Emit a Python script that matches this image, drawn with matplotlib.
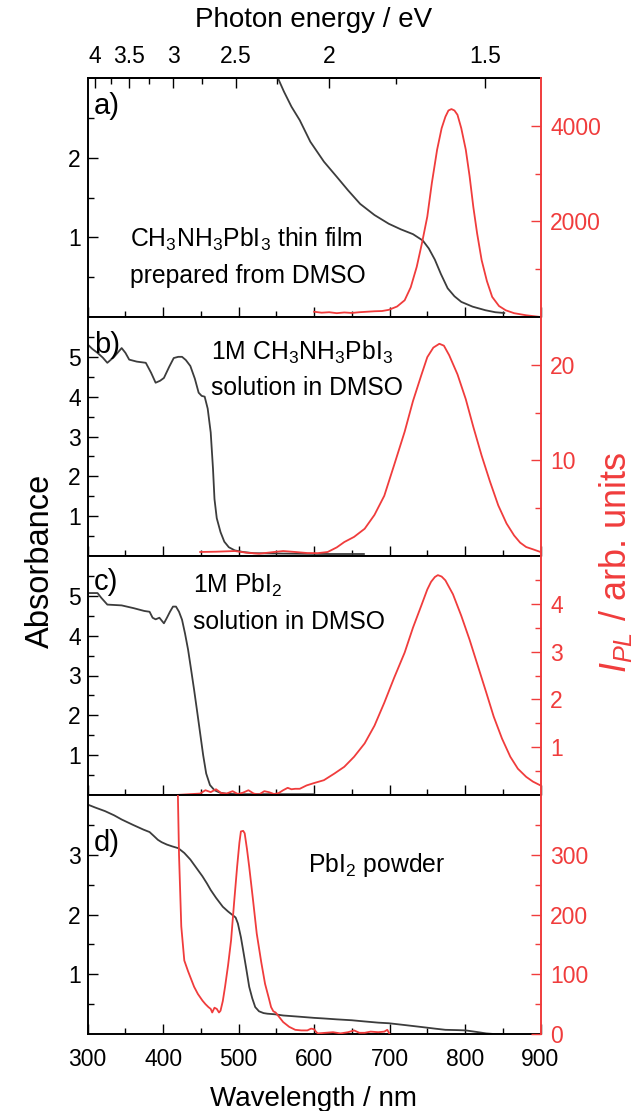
import numpy as np
import matplotlib
matplotlib.use('Agg')
import matplotlib.pyplot as plt
from matplotlib.ticker import FixedLocator

plt.rcParams['font.family'] = ['Liberation Sans', 'DejaVu Sans']
plt.rcParams['mathtext.fontset'] = 'custom'
plt.rcParams['mathtext.rm'] = 'Liberation Sans'
plt.rcParams['mathtext.it'] = 'Liberation Sans:italic'
plt.rcParams['mathtext.bf'] = 'Liberation Sans:bold'

BLACK = '#3c3c3c'
RED = '#f03c3c'

# --- panel a: CH3NH3PbI3 thin film ---
a_abs_wl = [552, 560, 570, 581, 595, 613, 630, 645, 661, 680, 699, 715, 731, 744,
            752, 760, 768, 777, 786, 795, 810, 827, 840, 852]
a_abs = [3.0, 2.83, 2.64, 2.47, 2.20, 1.95, 1.76, 1.59, 1.42, 1.28, 1.17, 1.10, 1.04, 0.96,
         0.86, 0.72, 0.54, 0.36, 0.26, 0.19, 0.13, 0.085, 0.06, 0.05]
a_pl_wl = [600, 610, 620, 630, 640, 650, 660, 670, 680, 690, 699, 710, 720, 728, 736, 743,
           750, 756, 763, 769, 774, 778, 782, 786, 790, 795, 801, 806, 811, 816, 822, 829,
           836, 845, 854, 865, 881, 900]
a_pl = [110, 90, 100, 80, 95, 85, 100, 110, 120, 125, 150, 220, 350, 620, 1050, 1550,
        2100, 2800, 3500, 3950, 4190, 4320, 4350, 4320, 4230, 3950, 3500, 2950, 2300, 1750, 1190, 750,
        420, 230, 140, 80, 36, 0]

# --- panel b: 1M CH3NH3PbI3 in DMSO ---
b_abs_wl = [300, 306, 313, 320, 326, 335, 345, 350, 355, 365, 377, 384, 390, 396, 401, 408,
            414, 420, 425, 430, 436, 442, 447, 451, 455, 459, 463, 466, 468, 471, 476, 481,
            487, 495, 506, 520, 560, 620, 666]
b_abs = [5.31, 5.2, 5.1, 4.98, 4.85, 5.0, 5.22, 5.1, 4.93, 4.88, 4.85, 4.6, 4.35, 4.4, 4.47, 4.75,
         4.97, 5.0, 5.0, 4.92, 4.77, 4.45, 4.1, 4.02, 4.0, 3.7, 3.1, 2.2, 1.43, 0.95, 0.6, 0.36,
         0.22, 0.14, 0.1, 0.07, 0.06, 0.05, 0.05]
b_pl_wl = [449, 470, 495, 510, 527, 545, 559, 575, 591, 605, 618, 630, 640, 653, 667, 680,
           693, 706, 720, 731, 742, 750, 758, 766, 772, 779, 790, 801, 811, 822, 833, 844,
           855, 865, 873, 881, 890, 900]
b_pl = [0.42, 0.45, 0.52, 0.35, 0.24, 0.4, 0.52, 0.42, 0.31, 0.3, 0.42, 0.9, 1.46, 2.0, 2.85, 4.3,
        6.3, 9.5, 13.0, 16.2, 18.9, 20.8, 21.8, 22.2, 22.0, 21.0, 19.0, 16.4, 13.5, 10.5, 7.8, 5.3,
        3.4, 2.15, 1.4, 0.94, 0.7, 0.42]

# --- panel c: 1M PbI2 in DMSO ---
c_abs_wl = [300, 306, 313, 318, 326, 345, 361, 375, 382, 386, 390, 395, 401, 405, 409, 413,
            417, 421, 425, 429, 433, 437, 441, 445, 449, 453, 457, 462, 468, 475, 484, 500,
            540, 600]
c_abs = [5.07, 5.07, 5.07, 4.95, 4.78, 4.76, 4.69, 4.62, 4.6, 4.45, 4.41, 4.45, 4.31, 4.45, 4.6, 4.73,
         4.73, 4.6, 4.4, 4.05, 3.65, 3.15, 2.64, 2.1, 1.55, 1.0, 0.54, 0.25, 0.12, 0.06, 0.03, 0.02,
         0.02, 0.02]
c_pl_wl = [380, 417, 449, 456, 463, 470, 477, 484, 492, 499, 506, 513, 520, 527, 534, 540,
           547, 553, 559, 565, 570, 575, 581, 590, 600, 613, 627, 640, 653, 667, 680, 693,
           706, 720, 731, 742, 750, 755, 760, 764, 769, 774, 784, 795, 806, 817, 828, 838,
           849, 860, 870, 881, 890, 900]
c_pl = [0.0, 0.0, 0.03, 0.1, 0.06, 0.12, 0.04, 0.03, 0.08, 0.02, 0.05, 0.1, 0.03, 0.01, 0.08, 0.06,
        0.02, 0.04, 0.1, 0.15, 0.12, 0.13, 0.13, 0.2, 0.25, 0.31, 0.45, 0.59, 0.8, 1.08, 1.45, 1.93,
        2.45, 2.98, 3.5, 3.96, 4.3, 4.46, 4.56, 4.6, 4.57, 4.49, 4.2, 3.75, 3.25, 2.7, 2.15, 1.64,
        1.18, 0.8, 0.55, 0.38, 0.28, 0.2]

# --- panel d: PbI2 powder ---
d_abs_wl = [300, 310, 323, 335, 345, 360, 374, 382, 388, 393, 398, 405, 412, 420, 428, 436,
            444, 452, 458, 463, 470, 479, 486, 492, 496, 499, 503, 506, 510, 514, 518, 522,
            527, 533, 538, 548, 559, 580, 600, 613, 630, 650, 667, 685, 699, 720, 747, 760,
            774, 790, 801, 815, 828, 838, 849]
d_abs = [3.84, 3.79, 3.73, 3.66, 3.59, 3.50, 3.42, 3.38, 3.31, 3.25, 3.21, 3.17, 3.14, 3.11, 3.03, 2.92,
         2.78, 2.64, 2.52, 2.41, 2.28, 2.13, 2.05, 1.99, 1.95, 1.85, 1.62, 1.4, 1.1, 0.79, 0.6, 0.45,
         0.38, 0.35, 0.34, 0.33, 0.31, 0.29, 0.27, 0.26, 0.245, 0.23, 0.21, 0.19, 0.18, 0.15, 0.11, 0.09,
         0.07, 0.065, 0.06, 0.035, 0.01, 0.0, 0.0]
d_pl_wl = [417, 418, 421, 424, 428, 433, 437, 441, 446, 452, 456, 460, 463, 465, 468, 471,
           474, 476, 479, 482, 486, 490, 494, 498, 501, 503, 506, 508, 511, 514, 519, 524,
           530, 535, 540, 543, 546, 549, 554, 559, 567, 575, 583, 591, 596, 600, 603, 605,
           615, 625, 635, 645, 653, 660, 667, 675, 685, 693, 697, 700]
d_pl = [1000, 500, 300, 180, 123, 105, 92, 79, 67, 56, 50, 45, 42, 36, 44, 42,
        36, 39, 55, 79, 115, 157, 220, 280, 320, 339, 340, 336, 310, 280, 225, 168,
        120, 84, 60, 45, 38, 36, 28, 20, 12, 7, 6, 6, 9, 8, 3, 1,
        2, 3, 1, 3, 6, 2, 2, 4, 3, 4, 7, 0]

energy_major = [4, 3.5, 3, 2.5, 2, 1.5]
energy_minor = [3.75, 3.25, 2.75, 2.25, 1.75]
energy_labels = ['4', '3.5', '3', '2.5', '2', '1.5']

panels = [
    dict(abs=(a_abs_wl, a_abs), pl=(a_pl_wl, a_pl), ylim=(0, 3), ymaj=[1, 2], ymin=[0.5, 1.5, 2.5],
         rlim=(0, 5000), rmaj=[2000, 4000], rmin=[1000, 3000],
         letter=('a)', 114), notes=[('CH$_3$NH$_3$PbI$_3$ thin film', 130, 247),
                                    ('prepared from DMSO', 130, 283)]),
    dict(abs=(b_abs_wl, b_abs), pl=(b_pl_wl, b_pl), ylim=(0, 6), ymaj=[1, 2, 3, 4, 5],
         ymin=[0.5, 1.5, 2.5, 3.5, 4.5, 5.5],
         rlim=(0, 25), rmaj=[10, 20], rmin=[5, 15],
         letter=('b)', 353), notes=[('1M CH$_3$NH$_3$PbI$_3$', 211, 360),
                                    ('solution in DMSO', 211, 395)]),
    dict(abs=(c_abs_wl, c_abs), pl=(c_pl_wl, c_pl), ylim=(0, 6), ymaj=[1, 2, 3, 4, 5],
         ymin=[0.5, 1.5, 2.5, 3.5, 4.5, 5.5],
         rlim=(0, 5), rmaj=[1, 2, 3, 4], rmin=[0.5, 1.5, 2.5, 3.5, 4.5],
         letter=('c)', 590), notes=[('1M PbI$_2$', 193, 593),
                                    ('solution in DMSO', 193, 629)]),
    dict(abs=(d_abs_wl, d_abs), pl=(d_pl_wl, d_pl), ylim=(0, 4), ymaj=[1, 2, 3],
         ymin=[0.5, 1.5, 2.5, 3.5],
         rlim=(0, 400), rmaj=[0, 100, 200, 300], rmin=[50, 150, 250, 350],
         letter=('d)', 851), notes=[('PbI$_2$ powder', 308, 872)]),
]

W, H = 635, 1111
fig = plt.figure(figsize=(W / 100, H / 100), dpi=100)

left_px, right_px = 87.7, 540.5
top_px, panel_h = 78, 239

tick_kw = dict(direction='in', length=7.5, width=1.0, labelsize=16.5)
minor_kw = dict(direction='in', length=4, width=1.0)

for i, p in enumerate(panels):
    bottom_px = top_px + panel_h * (i + 1)
    ax = fig.add_axes([left_px / W, 1 - bottom_px / H, (right_px - left_px) / W, panel_h / H])
    ax.plot(*p['abs'], color=BLACK, lw=1.3)
    ax.set_xlim(300, 900)
    ax.set_ylim(*p['ylim'])
    ax.xaxis.set_major_locator(FixedLocator([300, 400, 500, 600, 700, 800, 900]))
    ax.xaxis.set_minor_locator(FixedLocator([350, 450, 550, 650, 750, 850]))
    ax.yaxis.set_major_locator(FixedLocator(p['ymaj']))
    ax.yaxis.set_minor_locator(FixedLocator(p['ymin']))
    ax.tick_params(which='major', **tick_kw)
    ax.tick_params(which='minor', **minor_kw)
    ax.tick_params(axis='x', which='both', top=False, labelbottom=(i == 3), pad=10)
    ax.tick_params(axis='y', which='both', right=False, pad=5)
    for s in ax.spines.values():
        s.set_linewidth(1.4)
    ax.spines['right'].set_visible(False)

    rx = ax.twinx()
    rx.plot(*p['pl'], color=RED, lw=1.3)
    rx.set_ylim(*p['rlim'])
    rx.set_xlim(300, 900)
    rx.yaxis.set_major_locator(FixedLocator(p['rmaj']))
    rx.yaxis.set_minor_locator(FixedLocator(p['rmin']))
    rx.tick_params(which='major', colors=RED, pad=7, **tick_kw)
    rx.tick_params(which='minor', colors=RED, **minor_kw)
    for name, s in rx.spines.items():
        s.set_visible(name == 'right')
    rx.spines['right'].set_color(RED)
    rx.spines['right'].set_linewidth(1.4)

    fig.text(94 / W, 1 - p['letter'][1] / H, p['letter'][0], fontsize=21, va='baseline')
    for txt, x, y in p['notes']:
        fig.text(x / W, 1 - y / H, txt, fontsize=17.8, va='baseline')

    if i == 0:
        top = ax.secondary_xaxis('top', functions=(lambda w: 1239.84 / np.asarray(w, float),
                                                   lambda e: 1239.84 / np.asarray(e, float)))
        top.xaxis.set_major_locator(FixedLocator(energy_major))
        top.xaxis.set_minor_locator(FixedLocator(energy_minor))
        top.set_xticklabels(energy_labels)
        top.tick_params(which='major', pad=7, **tick_kw)
        top.tick_params(which='minor', **minor_kw)
        top.spines['top'].set_linewidth(1.4)
    if i == 3:
        ax.set_xticklabels(['300', '400', '500', '600', '700', '800', '900'])

fig.text(314 / W, 1 - 20 / H, 'Photon energy / eV', fontsize=20, ha='center', va='center')
fig.text(314 / W, 1 - 1099 / H, 'Wavelength / nm', fontsize=20, ha='center', va='center')
fig.text(40 / W, 1 - 561 / H, 'Absorbance', fontsize=23.5, rotation=90, ha='center', va='center')
fig.text(615 / W, 1 - 562 / H, '$I_{PL}$ / arb. units', fontsize=26, rotation=90,
         ha='center', va='center', color=RED)

fig.savefig('out.png', dpi=100)
